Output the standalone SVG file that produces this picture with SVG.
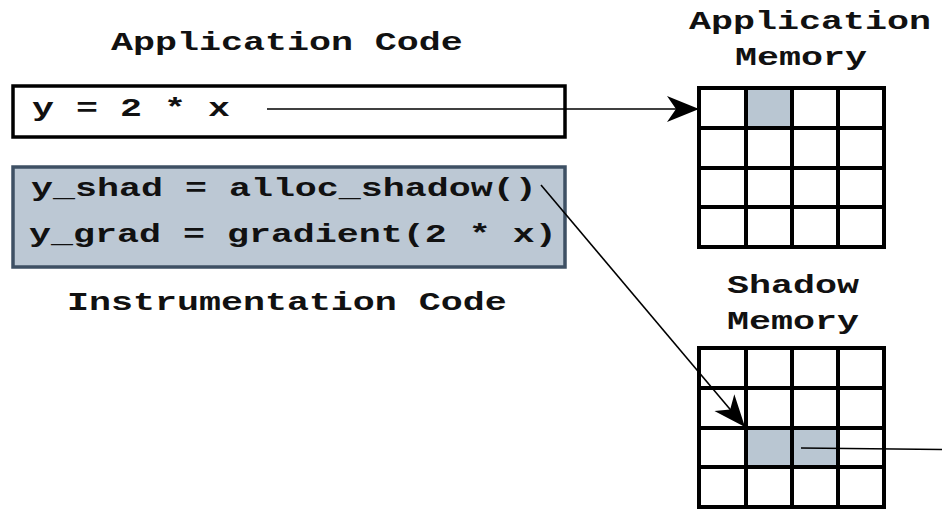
<svg xmlns="http://www.w3.org/2000/svg" width="942" height="509" viewBox="0 0 942 509">
  <style>
    .t { font-family: "Liberation Mono", "DejaVu Sans Mono", monospace; font-weight: bold; font-size: 26px; fill: #111; }
    .grid { fill: none; stroke: #000; stroke-width: 4; }
    .hl { fill: #b9c6d2; }
    .conn { fill: none; stroke: #000; stroke-width: 1.6; }
  </style>
  <defs>
    <marker id="arrow" markerUnits="userSpaceOnUse" markerWidth="34" markerHeight="28" refX="32" refY="13" orient="auto">
      <path d="M0,0 L32,13 L0,26 L9,13 z" fill="#000"/>
    </marker>
  </defs>
  <rect width="942" height="509" fill="#fff"/>

  <!-- application code (text widened 1.41x horizontally) -->
  <g id="app-code">
    <text class="t" transform="translate(111 50) scale(1.41 1)">Application Code</text>
    <rect x="13" y="86" width="552" height="51" fill="#fff" stroke="#000" stroke-width="3.5"/>
    <text class="t" transform="translate(32 116) scale(1.41 1)">y = 2 * x</text>
  </g>

  <!-- instrumentation code -->
  <g id="instr-code">
    <rect x="13" y="167" width="552" height="100" fill="#bcc8d4" stroke="#3e5064" stroke-width="3.5"/>
    <text class="t" transform="translate(31 196) scale(1.41 1)">y_shad = alloc_shadow()</text>
    <text class="t" transform="translate(29 242) scale(1.41 1)">y_grad = gradient(2 * x)</text>
    <text class="t" transform="translate(67 310) scale(1.41 1)">Instrumentation Code</text>
  </g>

  <!-- application memory grid -->
  <g id="app-memory">
    <text class="t" transform="translate(689 29) scale(1.41 1)">Application</text>
    <text class="t" transform="translate(735 65) scale(1.41 1)">Memory</text>
    <rect class="hl" x="746" y="88" width="46" height="40"/>
    <rect class="grid" x="699" y="88" width="185" height="159"/>
    <path class="grid" d="M746,88V247 M792,88V247 M838,88V247 M699,128H884 M699,168H884 M699,207H884"/>
  </g>

  <!-- shadow memory grid -->
  <g id="shadow-memory">
    <text class="t" transform="translate(727 293) scale(1.41 1)">Shadow</text>
    <text class="t" transform="translate(727 329) scale(1.41 1)">Memory</text>
    <rect class="hl" x="746" y="428" width="92" height="39"/>
    <rect class="grid" x="699" y="348" width="185" height="159"/>
    <path class="grid" d="M746,348V507 M792,348V507 M838,348V507 M699,388H884 M699,428H884 M699,467H884"/>
  </g>

  <!-- connectors -->
  <g id="connectors">
    <line class="conn" x1="267" y1="109" x2="699" y2="109" marker-end="url(#arrow)"/>
    <line class="conn" x1="541" y1="185" x2="745" y2="427" marker-end="url(#arrow)"/>
    <line class="conn" x1="801" y1="448" x2="942" y2="449.5"/>
  </g>
</svg>
